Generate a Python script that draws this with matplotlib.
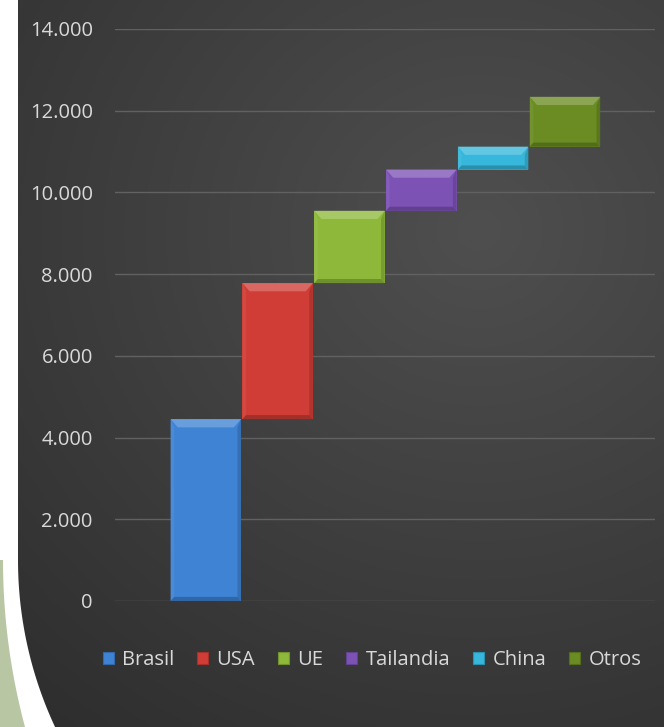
import numpy as np
import matplotlib
matplotlib.use("Agg")
import matplotlib.pyplot as plt
from matplotlib.patches import Polygon, Patch
from matplotlib.colors import to_rgb

# data (thousands separator is '.')
paises = ["Brasil", "USA", "UE", "Tailandia", "China", "Otros"]
valores = [4450, 3330, 1770, 1010, 560, 1220]
colores = ["#3f83d4", "#cf3d36", "#8db83a", "#7c52b5", "#36b7db", "#6a8c22"]
yticks = [0, 2000, 4000, 6000, 8000, 10000, 12000, 14000]

W, H = 664, 727
plt.rcParams["font.family"] = ["Open Sans", "DejaVu Sans"]
fig = plt.figure(figsize=(W / 100, H / 100), dpi=100, facecolor="white")


def shade(c, f):
    r = np.array(to_rgb(c))
    if f > 0:
        return tuple(r + (1 - r) * f)
    return tuple(r * (1 + f))


def px(x, y):
    # pixel from top-left -> figure fraction
    return (x / W, 1 - y / H)


# green corner outside the white band
Ro = 645
yy = np.linspace(560, H, 60)
outer = [px(3 + Ro - np.sqrt(Ro**2 - (y - 560) ** 2), y) for y in yy]
green = Polygon([px(0, 560)] + outer + [px(0, H)], closed=True,
                transform=fig.transFigure, facecolor="#b8c6a4", edgecolor="none")
fig.add_artist(green)

# dark panel with rounded bottom-left corner
R = 395
inner = [(18 + R - np.sqrt(R**2 - (y - 560) ** 2), y) for y in yy]
pts = [(18, 0)] + inner + [(W, H), (W, 0)]

bg = fig.add_axes([0, 0, 1, 1], zorder=-5)
bg.set_xlim(0, W)
bg.set_ylim(H, 0)
bg.axis("off")
gx, gy = np.meshgrid(np.linspace(0, W, 200), np.linspace(0, H, 220))
d = np.sqrt(((gx - 480) / 560) ** 2 + ((gy - 230) / 520) ** 2)
lum = 0.31 - 0.105 * np.clip(d, 0, 1.4)
img = np.dstack([lum, lum, lum])
im = bg.imshow(img, extent=[0, W, H, 0], aspect="auto", interpolation="bilinear")
panel = Polygon(pts, closed=True, transform=bg.transData, facecolor="none", edgecolor="none")
bg.add_patch(panel)
im.set_clip_path(panel)

# main chart
ax = fig.add_axes([115 / W, 1 - 601 / H, 540 / W, 572 / H])
ax.set_facecolor("none")
x = np.arange(len(paises))
bottoms = np.concatenate([[0], np.cumsum(valores)[:-1]])
tops = bottoms + np.array(valores)
bw = 0.98

ax.bar(x, valores, bottom=bottoms, width=bw, color=colores, edgecolor="none", zorder=3)

# bevel look
dx, dy = 0.1, 200
for xi, b, t, c in zip(x, bottoms, tops, colores):
    l, r = xi - bw / 2, xi + bw / 2
    ax.add_patch(Polygon([(l, t), (r, t), (r - dx, t - dy), (l + dx, t - dy)],
                         facecolor=shade(c, 0.22), edgecolor="none", zorder=4))
    ax.add_patch(Polygon([(l, b), (l, t), (l + dx * 0.5, t - dy), (l + dx * 0.5, b + dy * 0.5)],
                         facecolor=shade(c, 0.06), edgecolor="none", zorder=4))
    ax.add_patch(Polygon([(r, b), (r, t), (r - dx * 0.5, t - dy), (r - dx * 0.5, b + dy * 0.5)],
                         facecolor=shade(c, -0.15), edgecolor="none", zorder=4))
    ax.add_patch(Polygon([(l, b), (r, b), (r - dx * 0.5, b + dy * 0.5), (l + dx * 0.5, b + dy * 0.5)],
                         facecolor=shade(c, -0.22), edgecolor="none", zorder=4))

ax.set_xlim(-1.264, 6.253)
ax.set_ylim(0, 14000)
ax.set_yticks(yticks)
ax.set_yticklabels([f"{v:,}".replace(",", ".") for v in yticks])
ax.set_xticks([])
ax.yaxis.grid(True, color="#616161", linewidth=1.0, zorder=0)
ax.set_axisbelow(True)
ax.tick_params(axis="y", length=0, pad=16, labelsize=14.5, labelcolor="#d9d9d9")
for s in ax.spines.values():
    s.set_visible(False)

handles = [Patch(facecolor=c, edgecolor=shade(c, -0.2), linewidth=0.8) for c in colores]
fig.legend(handles, paises, loc="center", bbox_to_anchor=(372 / W, 1 - 660 / H), ncol=6,
           frameon=False, fontsize=14.5, labelcolor="#d9d9d9", handlelength=0.55,
           handleheight=0.55, handletextpad=0.4, columnspacing=1.15)

fig.savefig("out.png", dpi=100, facecolor=fig.get_facecolor())
